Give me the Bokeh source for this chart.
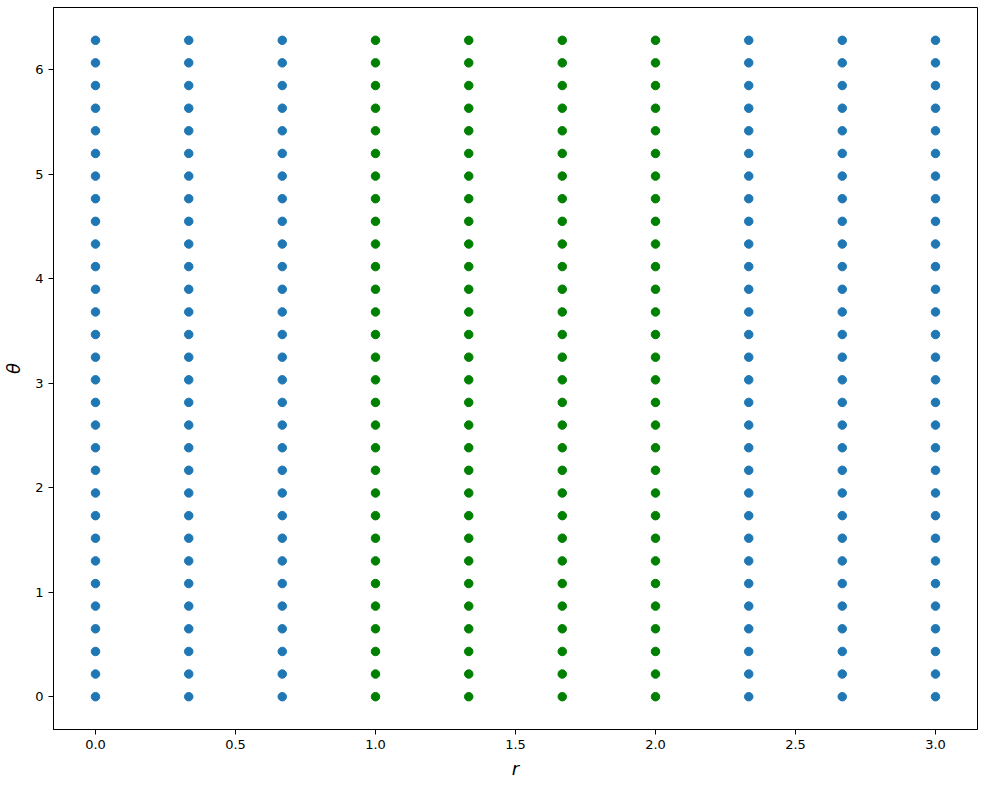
from bokeh.plotting import figure
from bokeh.models import FixedTicker, PrintfTickFormatter, Range1d, ColumnDataSource
from bokeh.embed import file_html
from bokeh.resources import INLINE

r_values = [0.0, 0.333, 0.667, 1.0, 1.333, 1.667, 2.0, 2.333, 2.667, 3.0]
theta_values = [0.0, 0.217, 0.433, 0.650, 0.867, 1.083, 1.300, 1.517, 1.733, 1.950,
                2.167, 2.383, 2.600, 2.817, 3.033, 3.250, 3.467, 3.683, 3.900, 4.117,
                4.333, 4.550, 4.767, 4.983, 5.200, 5.417, 5.633, 5.850, 6.067, 6.283]
highlight_r = [1.0, 1.333, 1.667, 2.0]

xs, ys, cs = [], [], []
for r in r_values:
    for t in theta_values:
        xs.append(r)
        ys.append(t)
        cs.append("#008000" if r in highlight_r else "#1f77b4")
src = ColumnDataSource(dict(x=xs, y=ys, c=cs))

p = figure(width=984, height=784, output_backend="svg", toolbar_location=None,
           x_range=Range1d(-0.15, 3.15), y_range=Range1d(-0.314, 6.597),
           min_border_left=50, min_border_right=7, min_border_top=7, min_border_bottom=55)
p.scatter("x", "y", source=src, size=8.5, fill_color="c", line_color="c")

p.xgrid.visible = False
p.ygrid.visible = False
p.outline_line_color = "black"
p.outline_line_alpha = 1.0

p.xaxis.ticker = FixedTicker(ticks=[0, 0.5, 1.0, 1.5, 2.0, 2.5, 3.0])
p.xaxis.formatter = PrintfTickFormatter(format="%.1f")
p.yaxis.ticker = FixedTicker(ticks=[0, 1, 2, 3, 4, 5, 6])
p.yaxis.formatter = PrintfTickFormatter(format="%d")
for ax in (p.xaxis, p.yaxis):
    ax.minor_tick_line_color = None
    ax.major_tick_out = 5
    ax.major_tick_in = 0
    ax.axis_line_color = "black"
    ax.major_label_text_font = "DejaVu Sans"
    ax.major_label_text_font_size = "13px"
    ax.major_label_text_color = "black"
    ax.axis_label_text_font = "DejaVu Sans"
    ax.axis_label_text_font_size = "18px"
    ax.axis_label_text_font_style = "italic"
    ax.axis_label_text_color = "black"
p.xaxis.axis_label = "r"
p.yaxis.axis_label = "θ"
p.yaxis.axis_label_standoff = 8
p.xaxis.axis_label_standoff = 6

open("out.html", "w").write(file_html(p, INLINE))
